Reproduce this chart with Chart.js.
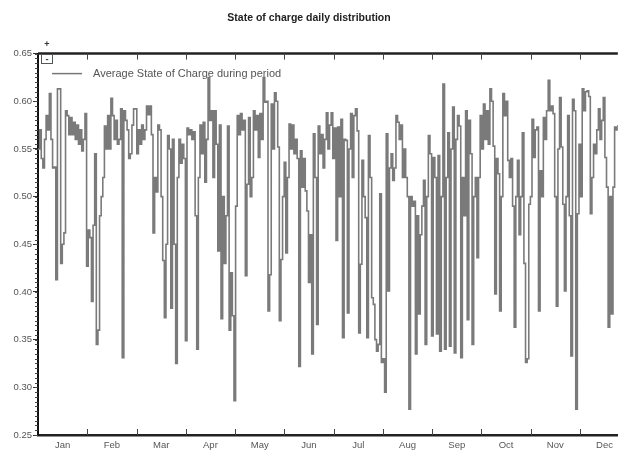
<!DOCTYPE html>
<html>
<head>
<meta charset="utf-8">
<script src="https://cdn.jsdelivr.net/npm/chart.js@4.4.1/dist/chart.umd.min.js"></script>
<style>
  html, body { margin: 0; padding: 0; background: #fff; }
  #wrap { position: relative; width: 618px; height: 451px; }
  canvas { display: block; }
  .zoomctl { position: absolute; font: bold 9px "Liberation Sans", Arial, sans-serif; color: #333; line-height: 8px; text-align: center; }
</style>
</head>
<body>
<div id="wrap">
  <canvas id="chart" width="618" height="451"></canvas>
  <div class="zoomctl" style="left:42px;top:40px;width:10px;height:9px;">+</div>
  <div class="zoomctl" style="left:41px;top:54px;width:10px;height:8px;border:1px solid #555;background:#fff;">-</div>
</div>
<script>
const months = ["Jan", "Feb", "Mar", "Apr", "May", "Jun", "Jul", "Aug", "Sep", "Oct", "Nov", "Dec"];
const daysPerMonth = 365 / 12;
const yTicks = [0.25, 0.30, 0.35, 0.40, 0.45, 0.50, 0.55, 0.60, 0.65];
const seriesLabel = "Average State of Charge during period";

// daily average state of charge, 10 days per line
const soc = [
  0.55, 0.57, 0.54, 0.53, 0.56, 0.585, 0.57, 0.608, 0.56, 0.53,
  0.531, 0.413, 0.613, 0.613, 0.43, 0.45, 0.462, 0.59, 0.585, 0.565,
  0.583, 0.565, 0.578, 0.56, 0.575, 0.555, 0.57, 0.548, 0.56, 0.587,
  0.427, 0.465, 0.457, 0.39, 0.47, 0.545, 0.345, 0.36, 0.48, 0.50,
  0.52, 0.574, 0.55, 0.585, 0.55, 0.603, 0.585, 0.56, 0.58, 0.555,
  0.56, 0.592, 0.331, 0.59, 0.58, 0.57, 0.54, 0.545, 0.575, 0.592,
  0.592, 0.545, 0.57, 0.555, 0.575, 0.56, 0.57, 0.595, 0.586, 0.595,
  0.565, 0.462, 0.52, 0.505, 0.575, 0.57, 0.50, 0.433, 0.373, 0.45,
  0.564, 0.55, 0.383, 0.56, 0.45, 0.325, 0.52, 0.56, 0.535, 0.555,
  0.54, 0.349, 0.572, 0.565, 0.57, 0.56, 0.568, 0.48, 0.34, 0.52,
  0.575, 0.545, 0.578, 0.515, 0.56, 0.625, 0.58, 0.59, 0.52, 0.59,
  0.555, 0.443, 0.575, 0.372, 0.50, 0.43, 0.48, 0.574, 0.36, 0.42,
  0.375, 0.286, 0.49, 0.585, 0.565, 0.587, 0.57, 0.58, 0.417, 0.513,
  0.583, 0.50, 0.52, 0.59, 0.57, 0.585, 0.541, 0.587, 0.56, 0.625,
  0.599, 0.60, 0.38, 0.418, 0.597, 0.55, 0.609, 0.60, 0.552, 0.37,
  0.434, 0.50, 0.536, 0.441, 0.52, 0.576, 0.55, 0.575, 0.545, 0.56,
  0.54, 0.322, 0.548, 0.51, 0.54, 0.506, 0.485, 0.41, 0.46, 0.335,
  0.566, 0.52, 0.366, 0.574, 0.545, 0.565, 0.53, 0.56, 0.588, 0.55,
  0.575, 0.588, 0.54, 0.572, 0.454, 0.573, 0.50, 0.581, 0.352, 0.56,
  0.559, 0.378, 0.55, 0.587, 0.52, 0.585, 0.592, 0.569, 0.357, 0.429,
  0.538, 0.50, 0.478, 0.352, 0.564, 0.52, 0.394, 0.387, 0.35, 0.338,
  0.345, 0.503, 0.326, 0.33, 0.295, 0.566, 0.401, 0.53, 0.545, 0.517,
  0.53, 0.585, 0.578, 0.56, 0.575, 0.52, 0.55, 0.52, 0.50, 0.277,
  0.50, 0.49, 0.495, 0.335, 0.48, 0.377, 0.46, 0.49, 0.517, 0.345,
  0.50, 0.564, 0.545, 0.354, 0.541, 0.52, 0.356, 0.543, 0.338, 0.50,
  0.618, 0.34, 0.52, 0.567, 0.343, 0.55, 0.594, 0.336, 0.56, 0.585,
  0.574, 0.331, 0.52, 0.48, 0.59, 0.371, 0.58, 0.545, 0.345, 0.50,
  0.52, 0.436, 0.52, 0.585, 0.55, 0.597, 0.56, 0.59, 0.555, 0.613,
  0.60, 0.553, 0.398, 0.54, 0.524, 0.38, 0.50, 0.608, 0.585, 0.60,
  0.538, 0.52, 0.54, 0.49, 0.363, 0.50, 0.538, 0.46, 0.50, 0.567,
  0.43, 0.326, 0.33, 0.492, 0.50, 0.581, 0.541, 0.57, 0.573, 0.38,
  0.527, 0.50, 0.583, 0.56, 0.59, 0.622, 0.59, 0.595, 0.587, 0.50,
  0.385, 0.55, 0.604, 0.552, 0.492, 0.401, 0.50, 0.585, 0.48, 0.333,
  0.602, 0.59, 0.277, 0.482, 0.555, 0.50, 0.613, 0.59, 0.61, 0.611,
  0.605, 0.482, 0.52, 0.555, 0.545, 0.57, 0.592, 0.56, 0.58, 0.604,
  0.541, 0.51, 0.363, 0.50, 0.377, 0.51, 0.573, 0.57, 0.575
];

const font = "Liberation Sans";

// frame, month ticks, minor y ticks and legend
const decor = {
  id: "decor",
  beforeDatasetsDraw(chart) {
    const { ctx, chartArea: a } = chart;
    ctx.save();
    ctx.strokeStyle = "#777";
    ctx.lineWidth = 1.5;
    ctx.beginPath();
    ctx.moveTo(a.left + 14, a.top + 20);
    ctx.lineTo(a.left + 44, a.top + 20);
    ctx.stroke();
    ctx.fillStyle = "#555";
    ctx.font = "11px " + font;
    ctx.textBaseline = "middle";
    ctx.fillText(chart.data.datasets[0].label, a.left + 55, a.top + 20);
    ctx.restore();
  },
  afterDraw(chart) {
    const { ctx, chartArea: a, scales: { x, y } } = chart;
    ctx.save();
    ctx.strokeStyle = "#222";
    ctx.lineWidth = 2.5;
    ctx.beginPath();
    ctx.moveTo(a.left, a.top);
    ctx.lineTo(a.right, a.top);
    ctx.stroke();

    ctx.strokeStyle = "#444";
    ctx.lineWidth = 1;
    ctx.beginPath();
    for (let k = 1; k < 12; k++) {
      const px = Math.round(x.getPixelForValue(k * daysPerMonth)) + 0.5;
      ctx.moveTo(px, a.top);
      ctx.lineTo(px, a.top + 6);
      ctx.moveTo(px, a.bottom);
      ctx.lineTo(px, a.bottom - 6);
    }
    for (let k = 0; k <= 80; k++) {
      const py = Math.round(y.getPixelForValue(0.25 + k * 0.005)) + 0.5;
      ctx.moveTo(a.left - 3, py);
      ctx.lineTo(a.left, py);
    }
    ctx.stroke();
    ctx.restore();
  }
};

new Chart(document.getElementById("chart"), {
  type: "line",
  data: {
    datasets: [{
      label: seriesLabel,
      data: soc.map((v, i) => ({ x: i, y: v })),
      stepped: true,
      borderColor: "#7a7a7a",
      borderWidth: 1.6,
      pointRadius: 0,
      fill: false
    }]
  },
  options: {
    responsive: false,
    animation: false,
    devicePixelRatio: 1,
    layout: { padding: 0 },
    plugins: {
      legend: { display: false },
      tooltip: { enabled: false },
      title: {
        display: true,
        text: "State of charge daily distribution",
        color: "#222",
        font: { family: font, size: 10.5, weight: "bold" },
        padding: { top: 12, bottom: 29 }
      }
    },
    scales: {
      x: {
        type: "linear",
        min: 0,
        max: 358,
        afterBuildTicks: s => { s.ticks = months.map((m, i) => ({ value: (i + 0.5) * daysPerMonth })); },
        afterFit: s => { s.height = 16; },
        grid: { display: false, drawTicks: false, tickLength: 0 },
        border: { display: true, color: "#222", width: 2.5 },
        ticks: {
          autoSkip: false,
          maxRotation: 0,
          padding: 5,
          color: "#555",
          font: { family: font, size: 9.5 },
          callback: (v, i) => months[i]
        }
      },
      y: {
        min: 0.25,
        max: 0.65,
        afterBuildTicks: s => { s.ticks = yTicks.map(v => ({ value: v })); },
        afterFit: s => { s.width = 38; },
        grid: { display: true, drawOnChartArea: false, tickLength: 5, color: "#333" },
        border: { display: true, color: "#111", width: 2 },
        ticks: {
          padding: 1,
          color: "#555",
          font: { family: font, size: 9.5 },
          callback: v => v.toFixed(2)
        }
      }
    }
  },
  plugins: [decor]
});
</script>
</body>
</html>
